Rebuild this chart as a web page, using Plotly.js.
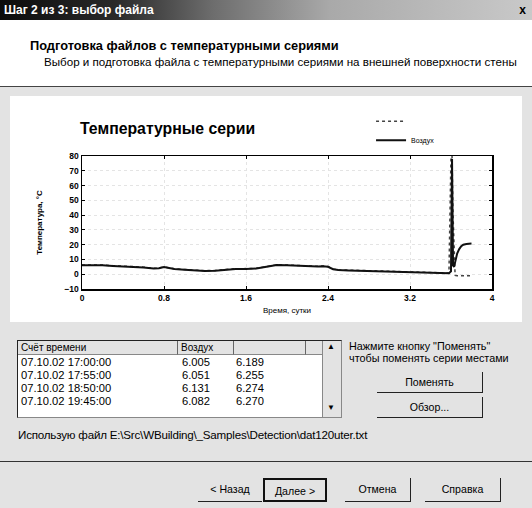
<!DOCTYPE html>
<html>
<head>
<meta charset="utf-8">
<script src="https://cdn.plot.ly/plotly-3.0.1.min.js"></script>
<style>
  html, body { margin:0; padding:0; }
  body { width:532px; height:508px; position:relative; overflow:hidden; background:#e3e3e3; font-family:"Liberation Sans", Arial, sans-serif; color:#000; }
  .abs { position:absolute; white-space:nowrap; }
  #titlebar { left:0; top:0; width:532px; height:20px; background:linear-gradient(90deg,#0c0c0c 0%,#2a2a2a 22%,#6d6d6d 40%,#a9a9a9 62%,#c9c9c9 100%); }
  #titletext { left:4px; top:3px; font-size:12px; font-weight:bold; color:#fff; }
  #closex { right:6px; top:3px; font-size:12px; font-weight:bold; }
  #header { left:0; top:20px; width:532px; height:66px; background:#fff; }
  #h1 { left:30px; top:38px; font-size:12.8px; font-weight:bold; }
  #h2 { left:44px; top:55px; font-size:11.6px; }
  #sep1 { left:0; top:86px; width:532px; height:1px; background:#444; }
  #chart { left:10px; top:96px; width:512px; height:226px; background:#fff; }
  #table { left:17px; top:340px; width:325px; height:78px; background:#fff; border:1px solid #222; border-right-color:#888; border-bottom-color:#888; box-sizing:border-box; font-size:10px; }
  .hdr { position:absolute; top:0; height:14px; background:#e3e3e3; border-right:1px solid #666; border-bottom:1px solid #888; box-sizing:border-box; font-size:10px; line-height:13px; padding-left:3px; }
  .cell { position:absolute; font-size:11.2px; line-height:12px; }
  #scroll { position:absolute; right:0; top:0; width:18px; height:76px; background:#e3e3e3; border-left:1px solid #888; }
  .arrow { position:absolute; left:4px; font-size:8px; }
  #rtext1 { left:349px; top:340px; font-size:10.8px; }
  #rtext2 { left:349px; top:352px; font-size:10.8px; }
  .btn { position:absolute; background:#e3e3e3; border-right:1px solid #222; border-bottom:1px solid #222; box-sizing:border-box; text-align:center; font-size:10.6px; }
  #file { left:18px; top:428px; font-size:11.6px; letter-spacing:-0.2px; }
  #sep2 { left:0; top:461px; width:532px; height:1px; background:#333; }
</style>
</head>
<body>
<div id="titlebar" class="abs"></div>
<div id="titletext" class="abs">Шаг 2 из 3: выбор файла</div>
<div id="closex" class="abs">x</div>
<div id="header" class="abs"></div>
<div id="h1" class="abs">Подготовка файлов с температурными сериями</div>
<div id="h2" class="abs">Выбор и подготовка файла с температурными сериями на внешней поверхности стены</div>
<div id="sep1" class="abs"></div>
<div id="chart" class="abs"></div>

<div id="table" class="abs">
  <div class="hdr" style="left:0;width:160px;">Счёт времени</div>
  <div class="hdr" style="left:160px;width:56px;">Воздух</div>
  <div class="hdr" style="left:216px;width:72px;"></div>
  <div class="hdr" style="left:288px;width:18px;"></div>
  <div id="scroll"><div class="arrow" style="top:1px;">▲</div><div class="arrow" style="top:62px;">▼</div></div>
  <div id="rows"></div>
</div>
<div id="rtext1" class="abs">Нажмите кнопку "Поменять"</div>
<div id="rtext2" class="abs">чтобы поменять серии местами</div>
<div class="btn" style="left:377px;top:372px;width:106px;height:21px;line-height:20px;">Поменять</div>
<div class="btn" style="left:377px;top:397px;width:106px;height:21px;line-height:20px;">Обзор...</div>
<div id="file" class="abs">Использую файл E:\Src\WBuilding\_Samples\Detection\dat120uter.txt</div>
<div id="sep2" class="abs"></div>
<div class="btn" style="left:198px;top:478px;width:64px;height:24px;line-height:23px;border-right:none;">&lt; Назад</div>
<div class="btn" style="left:263px;top:478px;width:64px;height:24px;line-height:22px;border:2px solid #111;">Далее &gt;</div>
<div class="btn" style="left:345px;top:478px;width:66px;height:24px;line-height:23px;">Отмена</div>
<div class="btn" style="left:425px;top:478px;width:76px;height:24px;line-height:23px;">Справка</div>

<script>
// ---- data ----
const time = [0, 0.1, 0.2, 0.3, 0.4, 0.5, 0.6, 0.7, 0.75, 0.8, 0.85, 0.9, 1.0, 1.1, 1.2, 1.3, 1.4, 1.5, 1.6, 1.7, 1.8, 1.9, 2.0, 2.1, 2.2, 2.3, 2.35, 2.4, 2.45, 2.5, 2.6, 2.7, 2.8, 2.9, 3.0, 3.1, 3.2, 3.3, 3.4, 3.5, 3.58, 3.6, 3.61, 3.62, 3.63, 3.64, 3.66, 3.68, 3.7, 3.72, 3.75, 3.8];
const seriesVozdukh = [6.0, 6.2, 6.0, 5.6, 5.4, 5.0, 4.6, 3.8, 4.0, 4.8, 4.2, 3.5, 3.0, 2.5, 2.2, 2.4, 3.0, 3.5, 3.6, 3.8, 5.0, 6.2, 6.0, 5.6, 5.4, 5.2, 5.4, 5.0, 3.4, 2.8, 2.6, 2.4, 2.0, 1.8, 1.5, 1.2, 1.0, 0.8, 0.6, 0.5, 0.6, 2.0, 78, 6.0, 5.0, 8.0, 14.0, 17.0, 19.0, 20.0, 20.5, 20.8];
const seriesSecond = [6.2, 6.4, 6.2, 5.8, 5.6, 5.2, 4.8, 4.0, 4.2, 5.0, 4.4, 3.7, 3.2, 2.7, 2.4, 2.6, 3.2, 3.7, 3.8, 4.0, 5.2, 6.4, 6.2, 5.8, 5.6, 5.4, 5.6, 5.2, 3.6, 3.0, 2.8, 2.6, 2.2, 2.0, 1.7, 1.4, 1.2, 1.0, 0.8, 0.7, 0.8, 80, 80, 40, 10, -0.8, -1.0, -1.0, -1.0, -1.0, -1.0, -1.0];
const seriesNames = ['', 'Воздух'];
const xTickVals = [0, 0.8, 1.6, 2.4, 3.2, 4];
const xTickText = ['0', '0.8', '1.6', '2.4', '3.2', '4'];
const yTickVals = [-10, 0, 10, 20, 30, 40, 50, 60, 70, 80];
const tableTimes = ['07.10.02 17:00:00', '07.10.02 17:55:00', '07.10.02 18:50:00', '07.10.02 19:45:00'];
const tableVozdukh = ['6.005', '6.051', '6.131', '6.082'];
const tableSecond = ['6.189', '6.255', '6.274', '6.270'];

// ---- table ----
const rows = document.getElementById('rows');
tableTimes.forEach((t, i) => {
  const top = 15 + i * 13;
  [[t, 3], [tableVozdukh[i], 164], [tableSecond[i], 218]].forEach(([txt, left]) => {
    const d = document.createElement('div');
    d.className = 'cell';
    d.style.top = top + 'px';
    d.style.left = left + 'px';
    d.textContent = txt;
    rows.appendChild(d);
  });
});

// ---- chart ----
const F = '"Liberation Sans", Arial, sans-serif';
const traces = [
  { x: time, y: seriesSecond, name: seriesNames[0], type: 'scatter', mode: 'lines',
    line: { color: '#444', width: 1.5, dash: 'dot' } },
  { x: time, y: seriesVozdukh, name: seriesNames[1], type: 'scatter', mode: 'lines',
    line: { color: '#111', width: 2 } }
];
const layout = {
  width: 512, height: 226,
  margin: { l: 72, r: 30, t: 59, b: 33, pad: 0 },
  paper_bgcolor: '#fff', plot_bgcolor: '#fff',
  font: { family: F, size: 8, color: '#000' },
  title: { text: '<b>Температурные серии</b>', x: 70 / 512, xanchor: 'left', xref: 'container',
    y: 1 - 32 / 226, yanchor: 'middle', yref: 'container', font: { family: F, size: 15.8, color: '#000' } },
  showlegend: true,
  legend: { x: 0.705, xanchor: 'left', y: 1.36, yanchor: 'top', bgcolor: 'rgba(0,0,0,0)',
    font: { family: F, size: 7, color: '#000' }, itemwidth: 30, tracegroupgap: 0, traceorder: 'normal' },
  xaxis: { range: [0, 4], tickvals: xTickVals, ticktext: xTickText, ticks: 'inside', ticklen: 3,
    tickcolor: '#000', showline: true, linecolor: '#000', linewidth: 1.5, mirror: 'ticks',
    showgrid: true, gridcolor: '#e4e4e4', griddash: 'dot', zeroline: false,
    tickfont: { family: F, size: 8.5, color: '#000', weight: 'bold' },
    title: { text: 'Время, сутки', font: { family: F, size: 8, color: '#000' }, standoff: 5 } },
  yaxis: { range: [-10, 80], tickvals: yTickVals, ticks: 'inside', ticklen: 3,
    tickcolor: '#000', showline: true, linecolor: '#000', linewidth: 1.5, mirror: 'ticks',
    showgrid: true, gridcolor: '#e4e4e4', griddash: 'dot', zeroline: false,
    tickfont: { family: F, size: 8.5, color: '#000', weight: 'bold' },
    title: { text: 'Температура, °C', font: { family: F, size: 8, color: '#000', weight: 'bold' }, standoff: 20 } }
};
Plotly.newPlot('chart', traces, layout, { displayModeBar: false, staticPlot: true });
</script>
</body>
</html>
